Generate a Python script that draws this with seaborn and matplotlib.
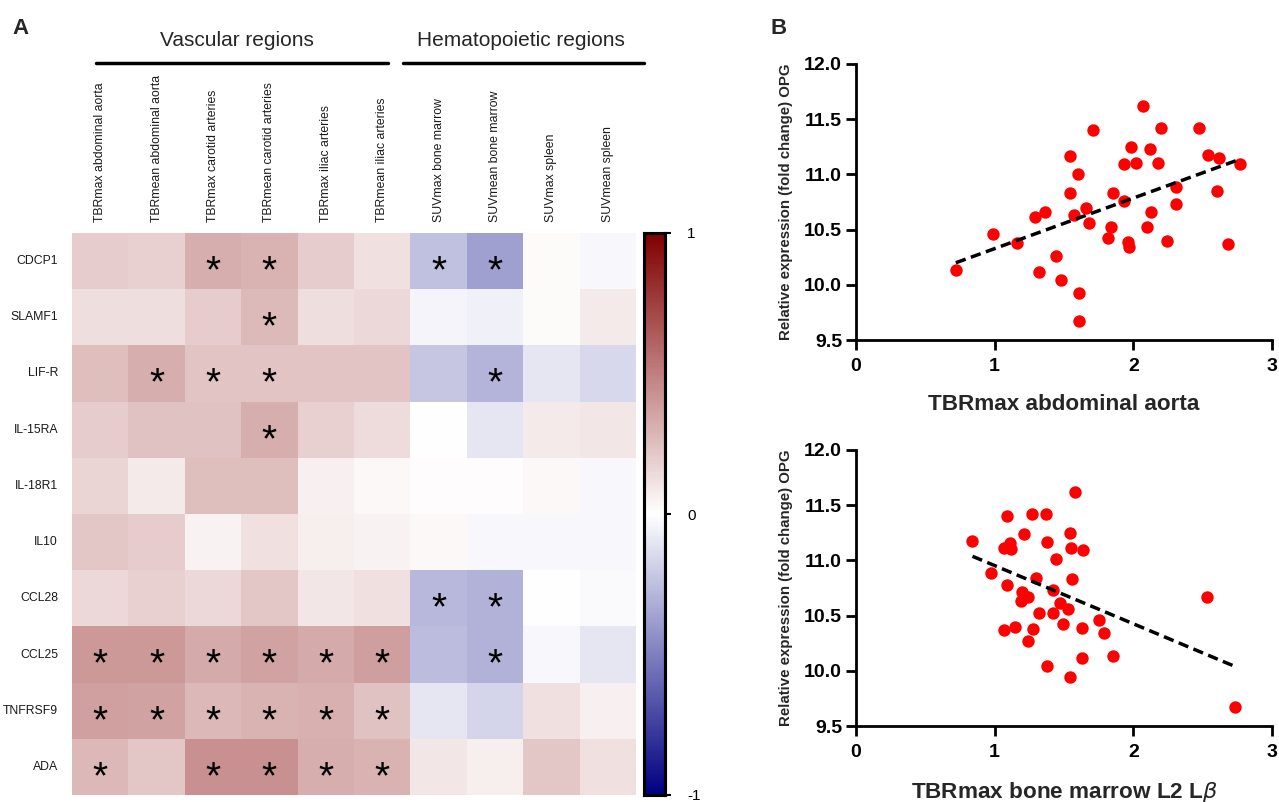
import numpy as np
import pandas as pd
import matplotlib
matplotlib.use("Agg")
import matplotlib.pyplot as plt
from matplotlib.colors import LinearSegmentedColormap
import seaborn as sns

# --- panel A: correlation heatmap ---
genes = ["CDCP1", "SLAMF1", "LIF-R", "IL-15RA", "IL-18R1", "IL10", "CCL28", "CCL25", "TNFRSF9", "ADA"]
regions = ["TBRmax abdominal aorta", "TBRmean abdominal aorta", "TBRmax carotid arteries",
           "TBRmean carotid arteries", "TBRmax iliac arteries", "TBRmean iliac arteries",
           "SUVmax bone marrow", "SUVmean bone marrow", "SUVmax spleen", "SUVmean spleen"]
corr = [
    [0.20, 0.18, 0.32, 0.30, 0.20, 0.12, -0.25, -0.37, 0.02, -0.03],
    [0.13, 0.13, 0.20, 0.27, 0.13, 0.15, -0.04, -0.06, 0.02, 0.08],
    [0.25, 0.32, 0.23, 0.23, 0.23, 0.23, -0.22, -0.29, -0.10, -0.15],
    [0.20, 0.24, 0.24, 0.32, 0.18, 0.14, 0.00, -0.10, 0.08, 0.10],
    [0.17, 0.08, 0.25, 0.25, 0.06, 0.03, 0.01, 0.01, 0.03, -0.03],
    [0.22, 0.20, 0.05, 0.12, 0.07, 0.05, 0.03, -0.03, -0.03, -0.03],
    [0.15, 0.18, 0.15, 0.22, 0.10, 0.12, -0.28, -0.30, 0.00, -0.02],
    [0.40, 0.40, 0.33, 0.36, 0.33, 0.38, -0.26, -0.30, -0.03, -0.10],
    [0.37, 0.36, 0.28, 0.30, 0.31, 0.24, -0.10, -0.17, 0.12, 0.06],
    [0.28, 0.22, 0.43, 0.43, 0.32, 0.30, 0.10, 0.07, 0.22, 0.12],
]
signif = [
    [0, 0, 1, 1, 0, 0, 1, 1, 0, 0],
    [0, 0, 0, 1, 0, 0, 0, 0, 0, 0],
    [0, 1, 1, 1, 0, 0, 0, 1, 0, 0],
    [0, 0, 0, 1, 0, 0, 0, 0, 0, 0],
    [0, 0, 0, 0, 0, 0, 0, 0, 0, 0],
    [0, 0, 0, 0, 0, 0, 0, 0, 0, 0],
    [0, 0, 0, 0, 0, 0, 1, 1, 0, 0],
    [1, 1, 1, 1, 1, 1, 0, 1, 0, 0],
    [1, 1, 1, 1, 1, 1, 0, 0, 0, 0],
    [1, 0, 1, 1, 1, 1, 0, 0, 0, 0],
]

# --- panel B: scatter data ---
aorta_x = [0.72, 0.99, 1.16, 1.29, 1.36, 1.32, 1.44, 1.48, 1.54, 1.54, 1.57, 1.60, 1.61, 1.61,
           1.66, 1.68, 1.71, 1.82, 1.84, 1.85, 1.93, 1.93, 1.96, 1.97, 1.98, 2.02, 2.07, 2.10,
           2.12, 2.13, 2.18, 2.20, 2.24, 2.31, 2.31, 2.47, 2.54, 2.60, 2.62, 2.68, 2.77]
aorta_y = [10.13, 10.46, 10.38, 10.61, 10.66, 10.12, 10.26, 10.04, 11.17, 10.83, 10.63, 11.00, 9.93, 9.67,
           10.70, 10.56, 11.40, 10.42, 10.52, 10.83, 11.09, 10.76, 10.39, 10.34, 11.25, 11.10, 11.62, 10.52,
           11.23, 10.66, 11.10, 11.42, 10.40, 10.89, 10.73, 11.42, 11.18, 10.85, 11.15, 10.37, 11.09]
marrow_x = [0.84, 0.97, 1.09, 1.07, 1.11, 1.12, 1.09, 1.07, 1.15, 1.21, 1.27, 1.20, 1.19, 1.24,
            1.24, 1.28, 1.30, 1.32, 1.37, 1.38, 1.38, 1.42, 1.42, 1.44, 1.47, 1.49, 1.53, 1.54,
            1.55, 1.56, 1.54, 1.58, 1.63, 1.63, 1.64, 1.75, 1.79, 1.85, 2.53, 2.73]
marrow_y = [11.18, 10.89, 11.40, 11.11, 11.16, 11.10, 10.78, 10.37, 10.40, 11.24, 11.42, 10.71, 10.63, 10.67,
            10.27, 10.38, 10.84, 10.52, 11.42, 11.17, 10.04, 10.73, 10.52, 11.01, 10.61, 10.42, 10.56, 11.25,
            11.11, 10.83, 9.94, 11.62, 10.39, 10.12, 11.09, 10.46, 10.34, 10.13, 10.67, 9.67]

sns.set_style("white")
plt.rcParams["font.family"] = ["Liberation Sans", "DejaVu Sans"]
plt.rcParams["mathtext.fontset"] = "dejavusans"

W, H = 1279, 802
fig = plt.figure(figsize=(W / 100, H / 100), dpi=100)

def px_axes(x0, y0, x1, y1):
    return fig.add_axes([x0 / W, 1 - y1 / H, (x1 - x0) / W, (y1 - y0) / H])

ax_hm = px_axes(72, 233, 636, 795)
ax_cb = px_axes(644, 233, 665, 795)

cmap = LinearSegmentedColormap.from_list("bwr_dark", ["#000080", "#ffffff", "#800000"])
df = pd.DataFrame(corr, index=genes, columns=regions)
stars = np.where(np.array(signif) == 1, "*", "")
sns.heatmap(df, ax=ax_hm, cbar_ax=ax_cb, cmap=cmap, vmin=-1, vmax=1,
            annot=stars, fmt="", annot_kws={"size": 28, "color": "black", "va": "center"},
            linewidths=0)
ax_hm.xaxis.tick_top()
ax_hm.set_xlabel("")
ax_hm.set_ylabel("")
ax_hm.tick_params(axis="both", length=0, labelsize=8.8, colors="#1a1a1a")
ax_hm.tick_params(axis="x", pad=8)
ax_hm.tick_params(axis="y", pad=10)
plt.setp(ax_hm.get_xticklabels(), rotation=90, ha="center", va="bottom")
plt.setp(ax_hm.get_yticklabels(), rotation=0)
for t in ax_hm.texts:
    t.set_position((t.get_position()[0], t.get_position()[1] + 0.2))

ax_cb.set_yticks([-1, 0, 1])
ax_cb.set_yticklabels(["-1", "0", "1"])
ax_cb.tick_params(length=4, width=1.5, labelsize=11, colors="black", pad=12)
for s in ax_cb.spines.values():
    s.set_visible(True)
    s.set_linewidth(2.2)
    s.set_color("black")

# group headers
fig.text(237 / W, 1 - 41 / H, "Vascular regions", ha="center", va="center", fontsize=15)
fig.text(521 / W, 1 - 41 / H, "Hematopoietic regions", ha="center", va="center", fontsize=15)
fig.add_artist(plt.Line2D([96 / W, 388 / W], [1 - 63 / H, 1 - 63 / H], color="black", lw=2.5))
fig.add_artist(plt.Line2D([403 / W, 644 / W], [1 - 63 / H, 1 - 63 / H], color="black", lw=2.5))

fig.text(12 / W, 1 - 28 / H, "A", fontsize=16, fontweight="bold", va="center")
fig.text(770 / W, 1 - 28 / H, "B", fontsize=16, fontweight="bold", va="center")

# --- scatter panels ---
def scatter_panel(ax, x, y, xlabel):
    sns.regplot(x=x, y=y, ax=ax, ci=None,
                scatter_kws={"s": 80, "color": "#ff0000", "alpha": 1, "linewidths": 0, "zorder": 2},
                line_kws={"color": "black", "lw": 2.5, "ls": (0, (3, 1.6)), "zorder": 3})
    ax.set_xlim(0, 3)
    ax.set_ylim(9.5, 12.0)
    ax.set_xticks([0, 1, 2, 3])
    ax.set_yticks([9.5, 10.0, 10.5, 11.0, 11.5, 12.0])
    ax.set_yticklabels(["9.5", "10.0", "10.5", "11.0", "11.5", "12.0"])
    sns.despine(ax=ax)
    for s in ["left", "bottom"]:
        ax.spines[s].set_linewidth(2)
        ax.spines[s].set_color("black")
    ax.tick_params(axis="both", direction="out", length=7, width=2, colors="black",
                   labelsize=14, left=True, bottom=True)
    ax.tick_params(axis="x", pad=6)
    ax.tick_params(axis="y", pad=3)
    for lab in ax.get_xticklabels() + ax.get_yticklabels():
        lab.set_fontweight("bold")
    ax.set_ylabel("Relative expression (fold change) OPG", fontsize=10.8, fontweight="bold", labelpad=8)
    ax.set_xlabel(xlabel, fontsize=16.2, fontweight="bold", labelpad=14)

ax_top = px_axes(856, 64, 1272, 340)
scatter_panel(ax_top, aorta_x, aorta_y, "TBRmax abdominal aorta")
ax_bot = px_axes(856, 450, 1272, 726)
scatter_panel(ax_bot, marrow_x, marrow_y, r"TBRmax bone marrow L2 L$\beta$")

fig.savefig("out.png", dpi=100)
